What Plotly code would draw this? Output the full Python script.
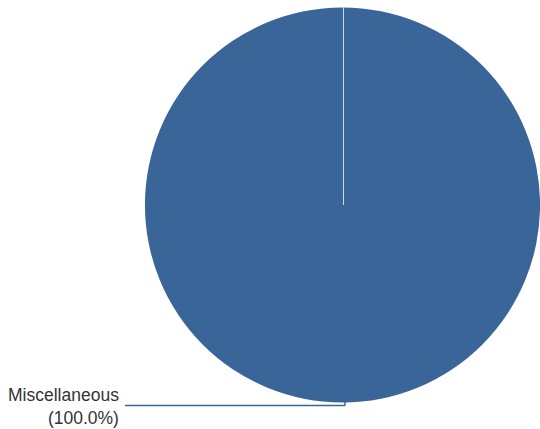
import plotly.graph_objects as go

labels = ["Miscellaneous"]
values = [100.0]
colors = ["#3a6598"]

W, H = 540, 429
total = sum(values)
pct = [v / total * 100 for v in values]

fig = go.Figure()
fig.add_trace(go.Pie(
    labels=labels,
    values=values,
    marker=dict(colors=colors, line=dict(color="#3a6598", width=0)),
    textinfo="none",
    hoverinfo="label+percent",
    sort=False,
    direction="clockwise",
    rotation=0,
    showlegend=False,
    domain=dict(x=[(343 - 198) / W, 1.0], y=[1 - 403 / H, 1 - 7 / H]),
))

def px(x):
    return x / W

def py(y):
    return 1 - y / H

# radial slice border (from top to center)
fig.add_shape(type="line", xref="paper", yref="paper",
              x0=px(343.5), x1=px(343.5), y0=py(7), y1=py(205),
              line=dict(color="#c9d9ee", width=1))
# leader line
fig.add_shape(type="line", xref="paper", yref="paper",
              x0=px(125), x1=px(345), y0=py(405.5), y1=py(405.5),
              line=dict(color="#3a6598", width=1.5))
fig.add_shape(type="line", xref="paper", yref="paper",
              x0=px(345), x1=px(345), y0=py(405.5), y1=py(401),
              line=dict(color="#3a6598", width=1.5))

fig.add_annotation(
    x=px(121), y=py(406), xref="paper", yref="paper",
    xanchor="right", yanchor="middle", align="right",
    text=f"{labels[0]}<br>({pct[0]:.1f}%)",
    showarrow=False,
    font=dict(family="Liberation Sans, Arial, sans-serif", size=17.5, color="#333333"),
)

fig.update_layout(
    width=W, height=H,
    margin=dict(l=0, r=0, t=0, b=0),
    paper_bgcolor="white",
    plot_bgcolor="white",
)

fig.write_html(
    "out.html",
    config={"displayModeBar": False},
    post_script="document.body.style.margin='0';document.body.style.overflow='hidden';",
)
